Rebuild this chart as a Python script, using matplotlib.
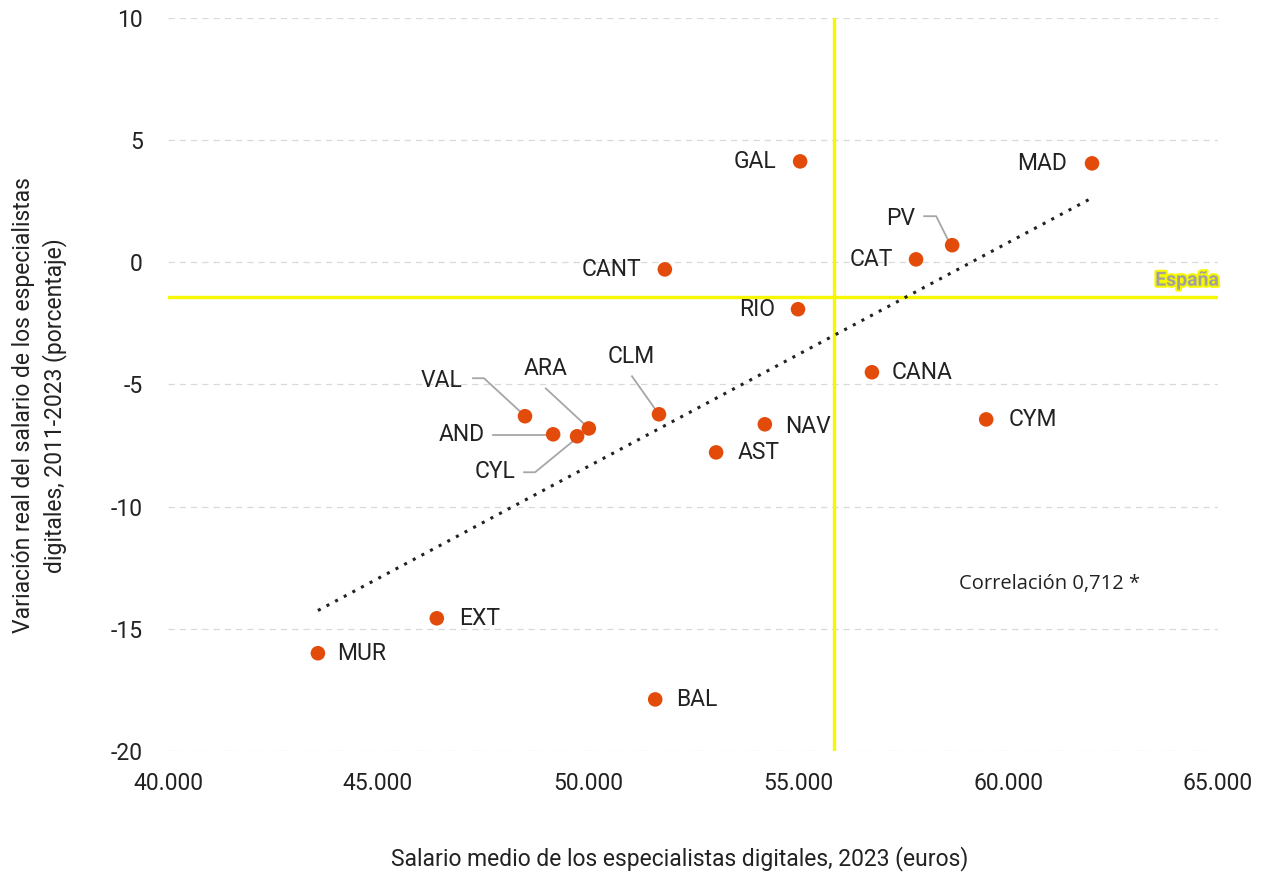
import numpy as np
import matplotlib
matplotlib.use('Agg')
import matplotlib.pyplot as plt
import matplotlib.patheffects as pe
from matplotlib.ticker import FuncFormatter

plt.rcParams['font.family'] = ['Roboto', 'DejaVu Sans']
plt.rcParams['axes.unicode_minus'] = False

regiones = ['GAL', 'MAD', 'PV', 'CAT', 'CANT', 'RIO', 'CANA', 'CYM', 'NAV', 'AST',
            'CLM', 'VAL', 'ARA', 'AND', 'CYL', 'EXT', 'MUR', 'BAL']
salario = [55050, 62000, 58670, 57810, 51830, 55000, 56760, 59480, 54210, 53050,
           51690, 48500, 50020, 49170, 49740, 46400, 43570, 51600]
variacion = [4.13, 4.05, 0.70, 0.12, -0.29, -1.92, -4.50, -6.43, -6.63, -7.78,
             -6.22, -6.30, -6.80, -7.04, -7.12, -14.57, -16.00, -17.89]
espana_salario = 55850
espana_variacion = -1.42

# label placement (pixels): text offset, ha, leader vertices
etiquetas = {
    'GAL': ((-24, 0), 'right', None),
    'MAD': ((-25, 0), 'right', None),
    'PV': ((-37, -27), 'right', [(-28, -29), (-16, -29), (-4, -5)]),
    'CAT': ((-23, 0), 'right', None),
    'CANT': ((-24, 0), 'right', None),
    'RIO': ((-23, 0), 'right', None),
    'CANA': ((20, 0), 'left', None),
    'CYM': ((22, 0), 'left', None),
    'NAV': ((20, 2), 'left', None),
    'AST': ((22, 0), 'left', None),
    'CLM': ((-28, -58), 'center', [(-27, -38), (-3, -4)]),
    'VAL': ((-62, -36), 'right', [(-52, -38), (-41, -38), (-3, -3)]),
    'ARA': ((-43, -60), 'center', [(-43, -40), (-2, -2)]),
    'AND': ((-68, 0), 'right', [(-60, 1), (-5, 1)]),
    'CYL': ((-62, 35), 'right', [(-53, 36), (-42, 36), (-3, 4)]),
    'EXT': ((22, 0), 'left', None),
    'MUR': ((19, 0), 'left', None),
    'BAL': ((21, 0), 'left', None),
}

fig = plt.figure(figsize=(12.63, 8.72), dpi=100)
ax = fig.add_axes([0.133, 0.1388, 0.8314, 0.8406])
ax.set_xlim(40000, 65000)
ax.set_ylim(-20, 10)

for s in ax.spines.values():
    s.set_visible(False)
ax.set_yticks([-20, -15, -10, -5, 0, 5, 10])
ax.set_xticks([40000, 45000, 50000, 55000, 60000, 65000])
ax.xaxis.set_major_formatter(FuncFormatter(lambda v, p: f'{v:,.0f}'.replace(',', '.')))
ax.tick_params(length=0, labelsize=16.5, colors='#222222')
ax.tick_params(axis='x', pad=15)
ax.tick_params(axis='y', pad=18)
ax.yaxis.grid(True, color='#d9d9d9', linestyle=(0, (5, 4)), linewidth=0.9)
ax.set_axisbelow(True)

# España reference lines
ax.axvline(espana_salario, color='#f7f700', linewidth=2.4, zorder=2)
ax.axhline(espana_variacion, color='#f7f700', linewidth=2.4, zorder=2)
ax.text(65020, espana_variacion + 0.3, 'España', ha='right', va='bottom', fontsize=14,
        fontweight='bold', color='#a0a0a0',
        path_effects=[pe.withStroke(linewidth=3, foreground='#f7f700')], zorder=3)

# trend line
x = np.array(salario, dtype=float)
y = np.array(variacion)
m, b = np.polyfit(x, y, 1)
xs = np.array([x.min(), x.max()])
ax.plot(xs, m * xs + b, color='#222222', linestyle=(0, (1, 2.2)), linewidth=2.2, zorder=3)

ax.scatter(salario, variacion, s=110, color='#e34b0b', edgecolors='none', zorder=5)

fig.canvas.draw()
to_disp = ax.transData.transform
to_data = ax.transData.inverted().transform
for reg, sx, vy in zip(regiones, salario, variacion):
    (dx, dy), ha, leader = etiquetas[reg]
    ax.annotate(reg, (sx, vy), xytext=(dx, -dy), textcoords='offset pixels',
                ha=ha, va='center', fontsize=16.5, color='#222222', zorder=6)
    if leader:
        px, py = to_disp((sx, vy))
        pts = to_data([(px + lx, py - ly) for lx, ly in leader])
        ax.plot(pts[:, 0], pts[:, 1], color='#a6a6a6', linewidth=1.3, zorder=4)

ax.text(58830, -13.15, 'Correlación 0,712 *', fontsize=14.5, color='#222222',
        family=['Open Sans', 'DejaVu Sans'], va='center')

fig.text(0.538, 0.016, 'Salario medio de los especialistas digitales, 2023 (euros)',
         fontsize=16.5, color='#222222', ha='center', va='center')
fig.text(0.031, 0.535, 'Variación real del salario de los especialistas\ndigitales, 2011-2023 (porcentaje)',
         fontsize=16.5, color='#222222', ha='center', va='center', rotation=90,
         linespacing=1.35, multialignment='center')

fig.savefig('out.png', dpi=100)
